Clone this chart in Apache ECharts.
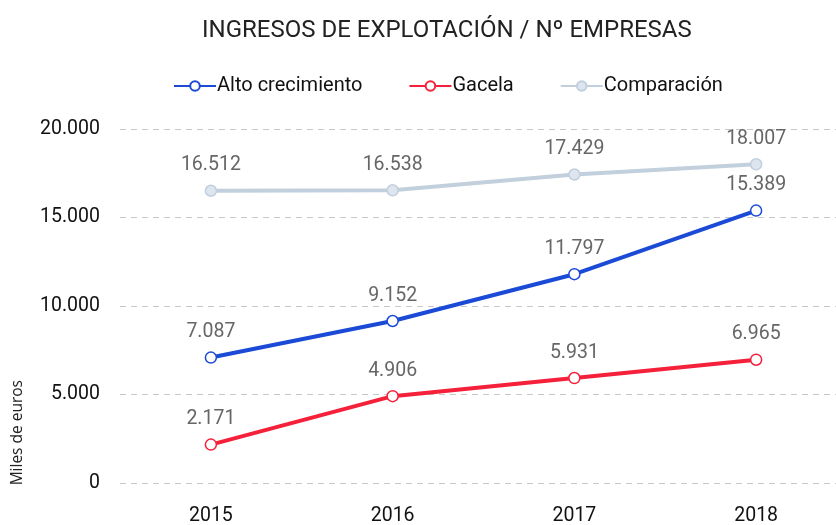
<!DOCTYPE html>
<html>
<head>
<meta charset="utf-8">
<script src="https://cdn.jsdelivr.net/npm/echarts@6/dist/echarts.min.js"></script>
<style>
  html, body { margin: 0; padding: 0; background: #fff; }
  #chart { width: 836px; height: 525px; }
</style>
</head>
<body>
<div id="chart"></div>
<script>
const years = ['2015', '2016', '2017', '2018'];
const altoCrecimiento = [7087, 9152, 11797, 15389];
const gacela = [2171, 4906, 5931, 6965];
const comparacion = [16512, 16538, 17429, 18007];

const FONT = 'Roboto';

// separador de miles con punto
function fmt(v) {
  return String(Math.round(v)).replace(/\B(?=(\d{3})+(?!\d))/g, '.');
}

function lineSeries(name, data, color, symbolFill) {
  return {
    name: name,
    type: 'line',
    data: data,
    symbol: 'circle',
    symbolSize: 11,
    lineStyle: { color: color, width: 4 },
    itemStyle: { color: symbolFill, borderColor: color, borderWidth: 1.5 },
    label: {
      show: true,
      position: 'top',
      distance: 9,
      color: '#666',
      fontFamily: FONT,
      fontSize: 19.5,
      formatter: p => fmt(p.value)
    },
    emphasis: { disabled: true }
  };
}

const chart = echarts.init(document.getElementById('chart'));
chart.setOption({
  animation: false,
  title: {
    text: 'INGRESOS DE EXPLOTACIÓN / Nº EMPRESAS',
    left: 197,
    top: 14,
    textStyle: { fontFamily: FONT, fontSize: 24, fontWeight: 'normal', color: '#222' }
  },
  legend: {
    top: 71,
    left: 168,
    itemWidth: 42,
    itemHeight: 12,
    itemGap: 46,
    textStyle: { fontFamily: FONT, fontSize: 20, color: '#111', padding: [0, 0, 0, -4] },
    data: ['Alto crecimiento', 'Gacela', 'Comparación']
  },
  // la rejilla sobresale por la derecha, como en el original
  grid: { left: 120, right: -11, top: 129, bottom: 42, containLabel: false, outerBoundsMode: 'none' },
  xAxis: {
    type: 'category',
    data: years,
    axisLine: { show: false },
    axisTick: { show: false },
    axisLabel: { fontFamily: FONT, fontSize: 19.5, color: '#111', margin: 23 }
  },
  yAxis: {
    type: 'value',
    min: 0,
    max: 20000,
    interval: 5000,
    axisLabel: { fontFamily: FONT, fontSize: 19.5, color: '#111', margin: 20, formatter: v => fmt(v) },
    splitLine: { lineStyle: { color: '#c8c8c8', type: [6, 5], width: 1 } }
  },
  graphic: [{
    type: 'text',
    left: 10,
    top: 380,
    rotation: Math.PI / 2,
    style: {
      text: 'Miles de euros',
      fontFamily: 'Open Sans',
      fontSize: 15.5,
      fill: '#222'
    }
  }],
  series: [
    lineSeries('Alto crecimiento', altoCrecimiento, '#1b4bd6', '#fff'),
    lineSeries('Gacela', gacela, '#f5203a', '#fff'),
    lineSeries('Comparación', comparacion, '#c2cfdd', '#dde5ee')
  ]
});
</script>
</body>
</html>
